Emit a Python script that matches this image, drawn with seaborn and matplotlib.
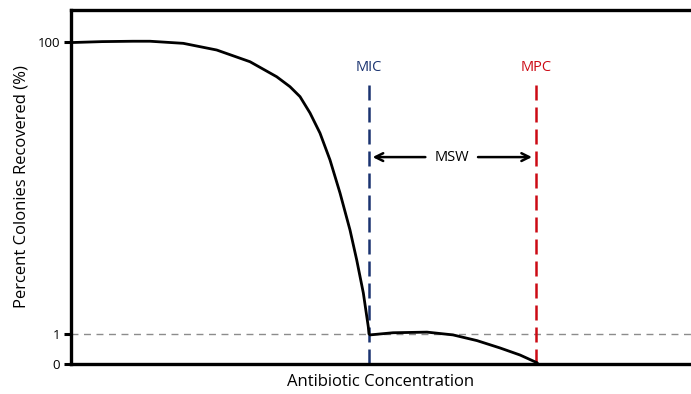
import numpy as np
import pandas as pd
import matplotlib
matplotlib.use("Agg")
import matplotlib.pyplot as plt
import seaborn as sns

# Survival curve below MIC (concentration in arbitrary units, percent recovered)
conc_sub = [0.0, 0.5, 1.0, 1.274, 1.811, 2.350, 2.887, 3.318, 3.532, 3.694,
            3.855, 4.016, 4.177, 4.339, 4.500, 4.608, 4.715, 4.795, 4.806]
pct_sub = [99.3, 100.8, 101.4, 101.4, 98.1, 88.3, 73.4, 57.9, 49.5, 42.3,
           32.7, 23.8, 15.6, 9.25, 5.16, 3.22, 1.91, 1.12, 1.0]
# Mutant subpopulation curve between MIC and MPC
conc_mut = [4.823, 5.194, 5.742, 6.161, 6.548, 6.919, 7.242, 7.516, 7.532]
pct_mut = [0.97, 1.02, 1.03, 0.97, 0.78, 0.535, 0.30, 0.043, 0.0]

mic = 4.80
mpc = 7.50
ytick_vals = [0, 1, 100]
ytick_labels = ["0", "1", "100"]

sns.set_style("white")
plt.rcParams['font.family'] = ['Open Sans', 'DejaVu Sans']
plt.rcParams['text.color'] = 'black'
plt.rcParams['axes.labelcolor'] = 'black'
plt.rcParams['ytick.color'] = 'black'

fig = plt.figure(figsize=(6.91, 3.94), dpi=100)
ax = fig.add_axes([71/691, 30/394, 620/691, 354/394])

df1 = pd.DataFrame({"conc": conc_sub, "pct": pct_sub})
df2 = pd.DataFrame({"conc": conc_mut, "pct": pct_mut})

ax.set_yscale("symlog", linthresh=1, linscale=0.185)

# 1% reference line
ax.axhline(1, color="#8c8c8c", lw=1.0, ls=(0, (5, 4)), zorder=1)

sns.lineplot(data=df1, x="conc", y="pct", ax=ax, color="black", lw=2.0, zorder=3)
sns.lineplot(data=df2, x="conc", y="pct", ax=ax, color="black", lw=2.0, zorder=3)

ax.set_xlim(0, 10)
ax.set_ylim(0, 166)

mic_color = "#1a3370"
mpc_color = "#cc0a14"
# MIC / MPC dashed lines
ax.plot([mic, mic], [0, 51.6], color=mic_color, lw=1.8, ls=(0, (6, 2.8)), zorder=2)
ax.plot([mpc, mpc], [0, 51.6], color=mpc_color, lw=1.8, ls=(0, (6, 2.8)), zorder=2)
ax.text(mic, 67.5, "MIC", color=mic_color, ha="center", va="center", fontsize=10.5)
ax.text(mpc, 67.5, "MPC", color=mpc_color, ha="center", va="center", fontsize=10.5)

# MSW arrow
ymsw = 16.3
ax.annotate("", xy=(mic + 0.02, ymsw), xytext=(5.76, ymsw),
            arrowprops=dict(arrowstyle="->", color="black", lw=1.8, mutation_scale=14))
ax.annotate("", xy=(mpc - 0.02, ymsw), xytext=(6.52, ymsw),
            arrowprops=dict(arrowstyle="->", color="black", lw=1.8, mutation_scale=14))
ax.text(6.14, ymsw, "MSW", ha="center", va="center", fontsize=10.5)

ax.set_yticks(ytick_vals)
ax.set_yticklabels(ytick_labels)
ax.yaxis.set_minor_locator(matplotlib.ticker.NullLocator())
ax.set_xticks([])
ax.tick_params(axis="y", direction="out", length=5, width=2.2, labelsize=9.5,
               left=True, pad=3, labelcolor="black")

for s in ["left", "bottom", "top"]:
    ax.spines[s].set_linewidth(2.4)
    ax.spines[s].set_color("black")
ax.spines["right"].set_visible(False)

ax.set_xlabel("Antibiotic Concentration", fontsize=12, labelpad=7)
ax.set_ylabel("Percent Colonies Recovered (%)", fontsize=12, labelpad=6)

fig.savefig("out.png", dpi=100)
